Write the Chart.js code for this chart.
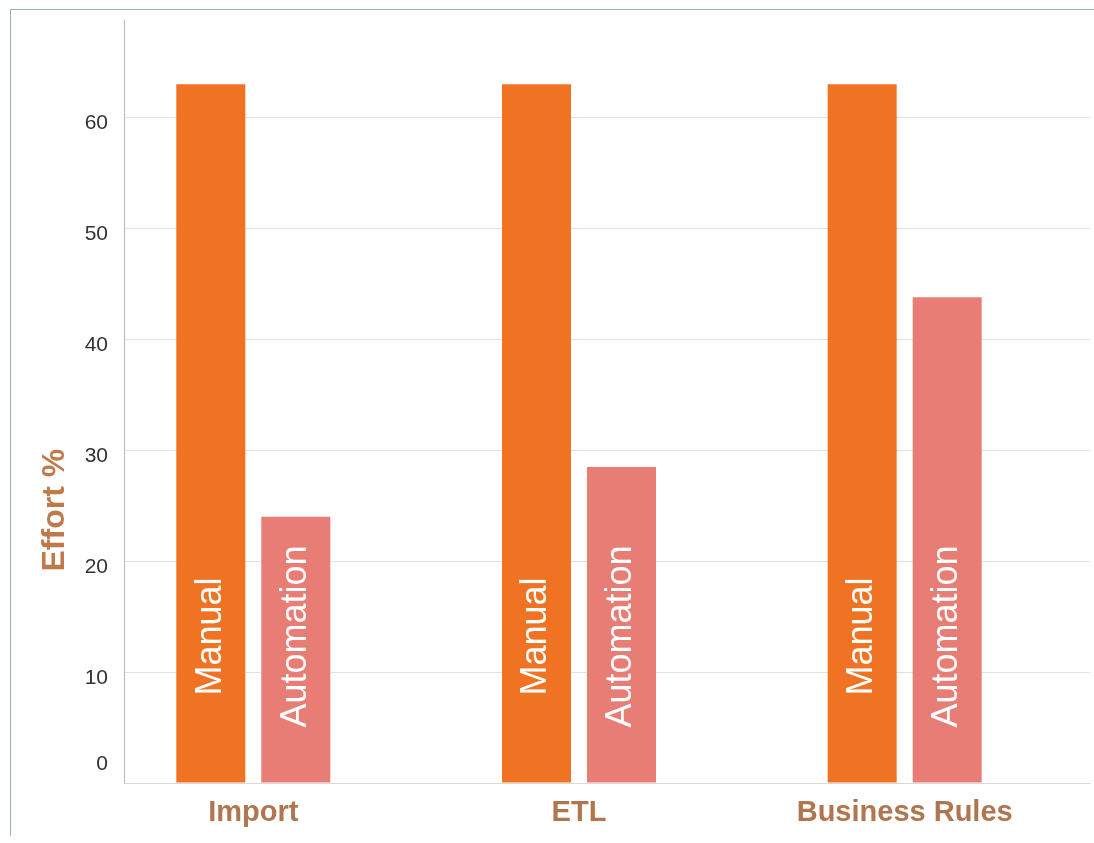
<!DOCTYPE html>
<html>
<head>
<meta charset="utf-8">
<script src="https://cdn.jsdelivr.net/npm/chart.js@4/dist/chart.umd.min.js"></script>
<style>
  html, body { margin: 0; padding: 0; background: #fff; }
  #frame { position: absolute; left: 10px; top: 9px; width: 1090px; height: 826px;
    border-top: 1px solid #8fb2be; border-left: 1px solid #8fb2be; }
  #wrap { position: absolute; left: 0; top: 0; width: 1094px; height: 843px; }
</style>
</head>
<body>
<div id="frame"></div>
<div id="wrap"><canvas id="c" width="1094" height="843"></canvas></div>
<script>
// data
const categories = ['Import', 'ETL', 'Business Rules'];
const seriesNames = ['Manual', 'Automation'];
const manual = [63, 63, 63];
const automation = [24, 28.5, 43.8];
const yTicks = [0, 10, 20, 30, 40, 50, 60];

const toPoints = (arr) => arr.map((v, i) => ({ x: i, y: v }));

// vertical series name inside each bar
const barText = {
  id: 'barText',
  afterDatasetsDraw(chart) {
    const ctx = chart.ctx;
    chart.data.datasets.forEach((ds, di) => {
      chart.getDatasetMeta(di).data.forEach((bar) => {
        ctx.save();
        ctx.translate(bar.x, bar.base - 146);
        ctx.rotate(-Math.PI / 2);
        ctx.font = '36px "Liberation Sans", Arial, sans-serif';
        ctx.fillStyle = '#ffffff';
        ctx.textAlign = 'center';
        ctx.textBaseline = 'middle';
        ctx.fillText(ds.label, 0, 0);
        ctx.restore();
      });
    });
  },
};

// y title, sits lower than centre in the original
const yTitle = {
  id: 'yTitle',
  afterDraw(chart) {
    const ctx = chart.ctx;
    const y = chart.scales.y.getPixelForValue(24.6);
    ctx.save();
    ctx.translate(55, y);
    ctx.rotate(-Math.PI / 2);
    ctx.font = 'bold 32px "Liberation Sans", Arial, sans-serif';
    ctx.fillStyle = '#bf7a4c';
    ctx.textAlign = 'center';
    ctx.textBaseline = 'middle';
    ctx.fillText('Effort %', 0, 0);
    ctx.restore();
  },
};

new Chart(document.getElementById('c'), {
  type: 'bar',
  data: {
    datasets: [
      { label: seriesNames[0], data: toPoints(manual), backgroundColor: '#f07323' },
      { label: seriesNames[1], data: toPoints(automation), backgroundColor: '#e87d76' },
    ],
  },
  options: {
    responsive: false, animation: false,
    layout: { padding: { left: 0, top: 20, right: 4, bottom: 10 } },
    datasets: { bar: { categoryPercentage: 0.522, barPercentage: 0.812 } },
    plugins: { legend: { display: false }, tooltip: { enabled: false } },
    scales: {
      x: {
        type: 'linear', bounds: 'data', offset: false, min: -0.397, max: 2.569,
        afterFit: (s) => { s.height = 50; s.paddingLeft = 0; s.paddingRight = 0; },
        afterBuildTicks: (s) => { s.ticks = categories.map((_, i) => ({ value: i })); },
        grid: { display: false, drawTicks: false, offset: false },
        border: { display: true, color: '#d9d9d9', width: 1 },
        ticks: {
          padding: 13, autoSkip: false, maxRotation: 0,
          color: '#b0764f',
          font: { family: '"Liberation Sans", Arial, sans-serif', size: 29, weight: 'bold' },
          callback: (v) => categories[v] ?? '',
        },
      },
      y: {
        bounds: 'data', min: 0, max: 68.8,
        afterFit: (s) => { s.width = 124; s.paddingTop = 0; s.paddingBottom = 0; },
        grid: { color: '#e0e0e0', drawTicks: false },
        border: { color: '#b8b8b8', width: 1 },
        afterBuildTicks: (s) => { s.ticks = yTicks.map((v) => ({ value: v })); },
        ticks: {
          padding: 16, labelOffset: 6, color: '#333333',
          font: { family: '"Liberation Sans", Arial, sans-serif', size: 21 },
          // the 0 label sits above the baseline in the original
          callback: (v) => (v === 0 ? ['0', '', ''] : String(v)),
        },
      },
    },
  },
  plugins: [barText, yTitle],
});
</script>
</body>
</html>
